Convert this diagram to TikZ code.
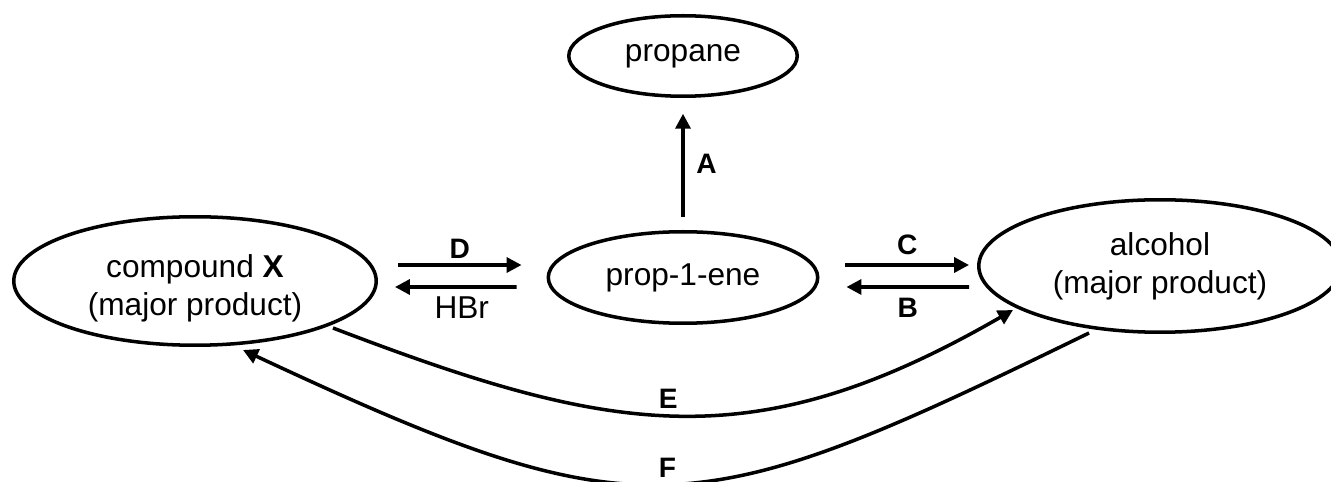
\documentclass[tikz,border=0pt]{standalone}
\usepackage{fontspec}
\setmainfont{Liberation Sans}
\usetikzlibrary{shapes.geometric}
\usetikzlibrary{arrows.meta}
\usetikzlibrary{calc}

\begin{document}
\begin{tikzpicture}[%
x=0.02cm, y=-0.02cm,
>={Triangle[length=0.3cm, width=0.3cm]},
species/.style={ellipse, draw, line width=2pt, inner sep=0pt, align=center, font=\fontsize{18}{21.6}\selectfont},
react/.style={->, line width=2pt},
letter/.style={font=\fontsize{16}{19}\selectfont\bfseries},
reagent/.style={font=\fontsize{18}{21.6}\selectfont},
]

\useasboundingbox (0,0) rectangle (1331,482);
\clip (0,0) rectangle (1331,482);

\node[species, minimum width=4.57cm, minimum height=1.61cm](propane) at (683,56){propane};
\node[species, minimum width=5.39cm, minimum height=1.83cm](prop) at (683,277.5){prop-1-ene};
\node[species, minimum width=7.25cm, minimum height=2.57cm, text height=43.5pt](comp) at (195,281){compound \textbf{X}\\(major product)};
\node[species, minimum width=7.25cm, minimum height=2.65cm](alc) at (1160,266){alcohol\\(major product)};

% A
\draw[react, shorten <=0.255cm, shorten >=0.315cm] (prop.north) -- (propane.south)
  node[midway, right, inner sep=0.23cm, letter]{A};

% D / HBr
\draw[react] ($(comp.east)+(20,-16)$) -- ($(prop.west)+(-25,-12.5)$)
  node[midway, above, inner sep=0.1cm, letter]{D};
\draw[react] ($(prop.west)+(-30,9.5)$) -- ($(comp.east)+(17,6)$)
  node[midway, below, inner sep=0.16cm, xshift=0.12cm, reagent]{HBr};

% C / B
\draw[react] ($(prop.east)+(26,-12.5)$) -- ($(alc.west)+(-8,-1)$)
  node[midway, above, inner sep=0.16cm, letter]{C};
\draw[react] ($(alc.west)+(-8,21)$) -- ($(prop.east)+(27,9.5)$)
  node[midway, below, inner sep=0.18cm, letter]{B};

% E / F
\draw[react] ($(comp.center)+(138,47)$) .. controls +(280,107) and +(-260,150) .. ($(alc.center)+(-147,44)$)
  node[pos=0.48, above, inner sep=0.1cm, letter]{E};
\draw[react] ($(alc.center)+(-71,67)$) .. controls +(-396,193) and +(400,187) .. ($(comp.center)+(48,69)$)
  node[pos=0.5, above, inner sep=0.1cm, letter]{F};

\end{tikzpicture}
\end{document}
